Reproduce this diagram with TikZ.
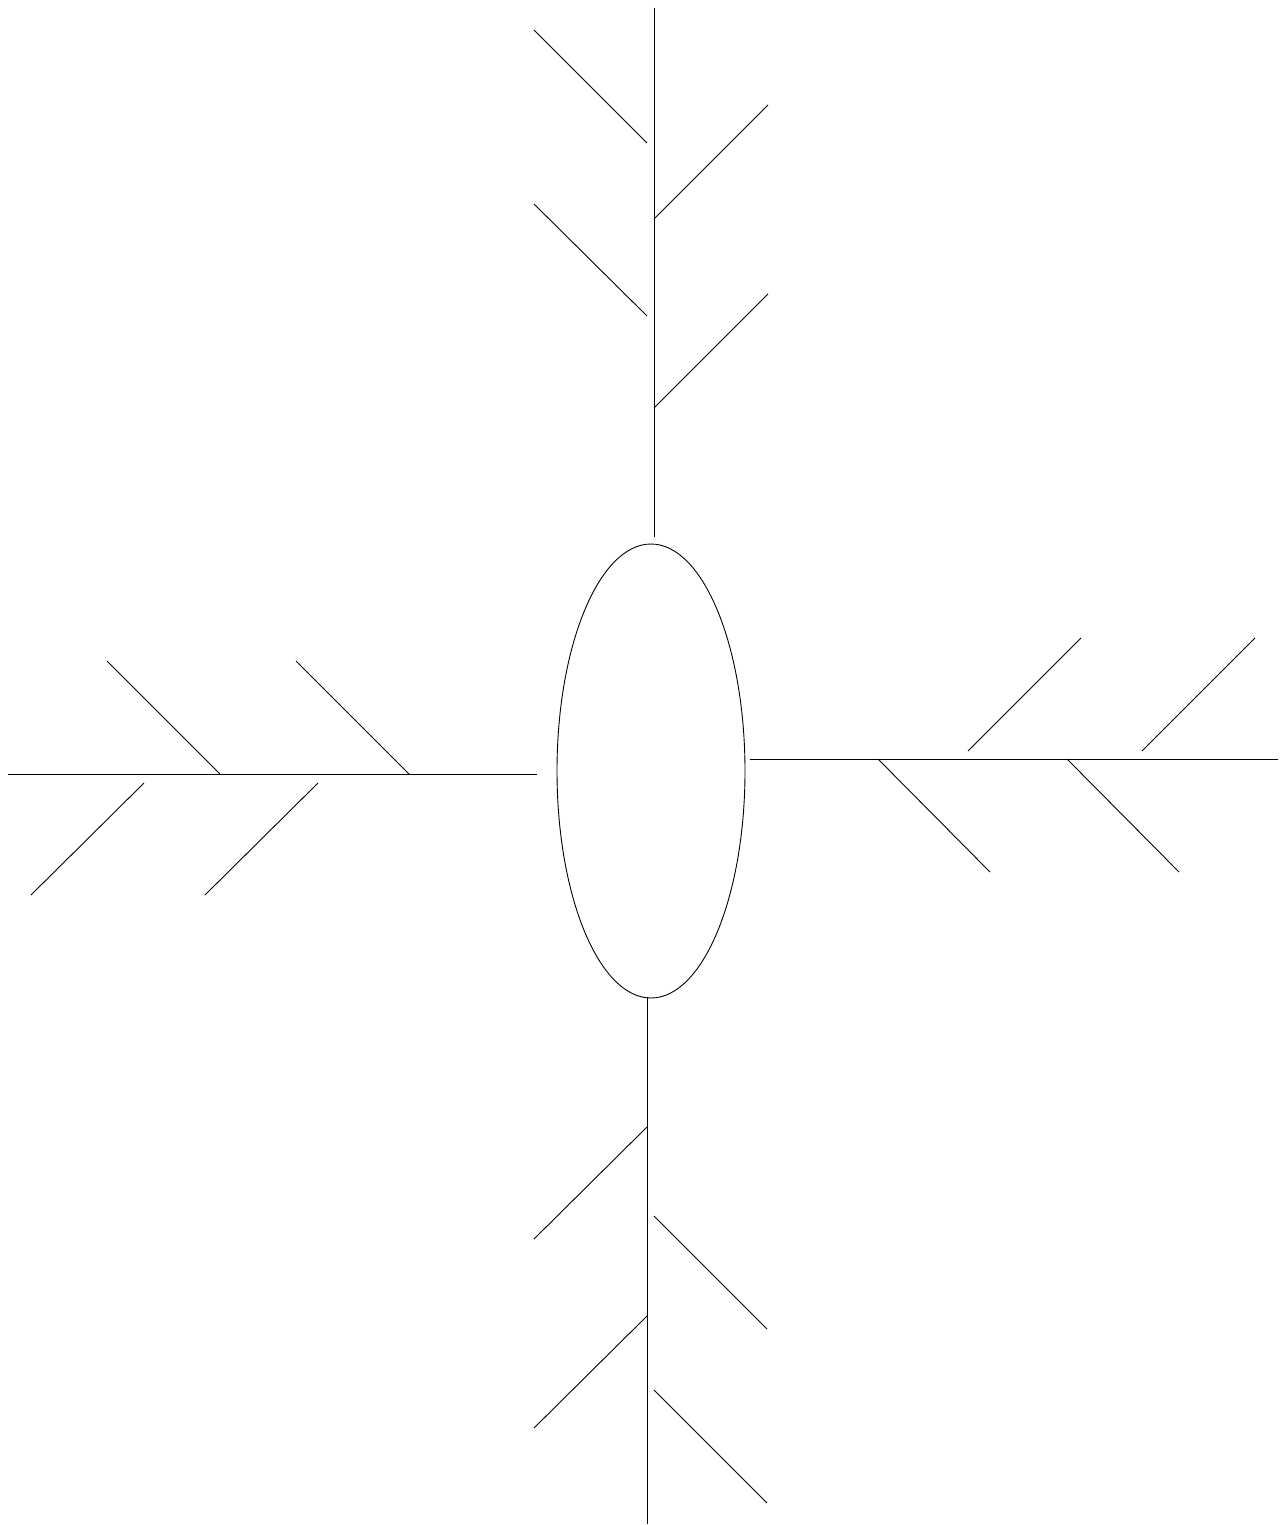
\documentclass[tikz,border=0pt]{standalone}
\usetikzlibrary{shapes.geometric}
\begin{document}
\begin{tikzpicture}[x=1pt,y=-1pt,line width=0.9pt,
  bone/.style={draw=black}]
\useasboundingbox (0,0) rectangle (1285,1525);
\node[draw, ellipse, minimum width=188pt, minimum height=454pt, inner sep=0pt] (center) at (651,771) {};
% top spine
\coordinate (t1) at (654,8);
\coordinate (t2) at (654,537);
\draw[bone] (t1) -- (t2);
\draw[bone] (534,30) -- (647,143);
\draw[bone] (768,105) -- (654,219);
\draw[bone] (534,204) -- (647,316);
\draw[bone] (768,294) -- (654,408);
% left spine
\coordinate (l1) at (8,774);
\coordinate (l2) at (537,774);
\draw[bone] (l1) -- (l2);
\draw[bone] (107,661) -- (220,774);
\draw[bone] (296,661) -- (409,774);
\draw[bone] (144,783) -- (31,895);
\draw[bone] (318,783) -- (205,895);
% right spine
\coordinate (r1) at (750,759);
\coordinate (r2) at (1278,759);
\draw[bone] (r1) -- (r2);
\draw[bone] (1081,638) -- (968,751);
\draw[bone] (1255,638) -- (1142,751);
\draw[bone] (878,759) -- (990,872);
\draw[bone] (1067,759) -- (1179,872);
% bottom spine
\coordinate (b1) at (647,997);
\coordinate (b2) at (647,1524);
\draw[bone] (b1) -- (b2);
\draw[bone] (647,1127) -- (534,1239);
\draw[bone] (654,1216) -- (767,1329);
\draw[bone] (647,1316) -- (534,1428);
\draw[bone] (654,1390) -- (767,1503);
\end{tikzpicture}
\end{document}
